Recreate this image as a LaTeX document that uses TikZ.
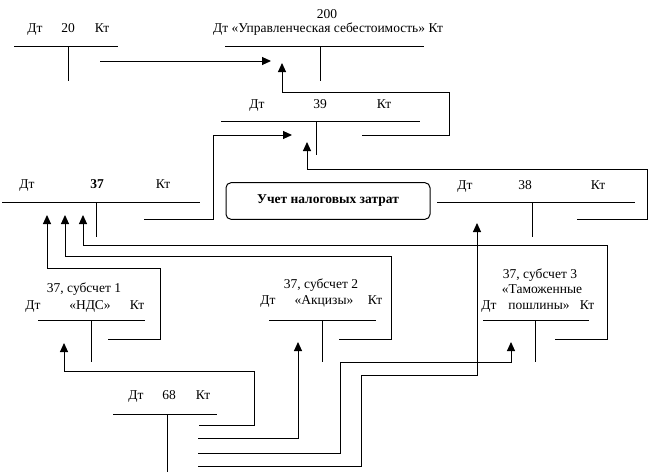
\documentclass[tikz,border=0pt]{standalone}
\usepackage{fontspec}
\setmainfont{Liberation Serif}
\usetikzlibrary{arrows.meta}
\begin{document}
\begin{tikzpicture}[x=1pt,y=-1pt,
    lbl/.style={inner sep=0pt,anchor=base,yshift=-4.6pt,font=\fontsize{13.5}{15}\selectfont},
    tline/.style={draw=black,line width=1pt},
    conn/.style={draw=black,line width=1pt,-{Triangle[length=9pt,width=8pt]}}]
    \useasboundingbox (0,0) rectangle (649,474);

    % T-accounts: left, right, leg x, y, leg length
    \foreach \xa/\xb/\xv/\y/\l in {14/118/68/46.7/34, 225/424/320/46.7/34, 221/420/316/121/34,
        2/200/96.7/202.3/35, 437/635/532/202.3/35, 38/145/91.7/320.3/42,
        269/376/322.3/320.3/42, 483/589/535.7/320.3/42, 113/217/167.3/414.3/58}
        \draw [tline] (\xa,\y) -- (\xb,\y) (\xv,\y) -- (\xv,\y+\l);

    \foreach \x/\y/\t [count=\i] in {35/28/Дт, 68/28/20, 102/28/Кт, 257/104/Дт, 320/104/39, 384/104/Кт,
        27/184/Дт, 163/184/Кт, 465/185/Дт, 525/185/38, 598/185/Кт,
        33/305/Дт, 90/305/«НДС», 137/305/Кт, 268/300/Дт, 324/300/«Акцизы», 375/300/Кт,
        489/305/Дт, 539/305/пошлины», 587/305/Кт, 136/395/Дт, 169/395/68, 203/395/Кт}
        \node [lbl] (t\i) at (\x,\y) {\t};
    \node [lbl] (n200) at (327,13.5) {200};
    \node [lbl] (h200) at (328,28) {Дт «Управленческая себестоимость» Кт};
    \node [lbl,font=\fontsize{13.5}{15}\selectfont\bfseries] (n37) at (97,184) {37};
    \node [lbl] (s1) at (84,288) {37, субсчет 1};
    \node [lbl] (s2) at (321,284) {37, субсчет 2};
    \node [lbl] (s3) at (540,274) {37, субсчет 3};
    \node [lbl] (s3b) at (542,289) {«Таможенные};
    \node [draw=black,line width=1pt,rounded corners=5pt,minimum width=204pt,minimum height=36.6pt,
        font=\fontsize{13.5}{15}\selectfont\bfseries] (tax) at (328,201) {Учет налоговых затрат};

    \coordinate (k20) at (100,61);   \coordinate (d200a) at (271,61);
    \coordinate (k39) at (362,135);  \coordinate (d200b) at (282,63);
    \coordinate (k37) at (144,219);  \coordinate (d39a) at (292,135);
    \coordinate (k38) at (577,219);  \coordinate (d39b) at (307,142);
    \coordinate (k1) at (108,339);   \coordinate (d37a) at (47,215);
    \coordinate (k2) at (339,339);   \coordinate (d37b) at (65,215);
    \coordinate (k3) at (555,339);   \coordinate (d37c) at (83,215);
    \coordinate (k68a) at (199,425); \coordinate (d1) at (64,343);
    \coordinate (k68b) at (198,438); \coordinate (d2) at (298,342);
    \coordinate (k68c) at (198,453); \coordinate (d3) at (511,342);
    \coordinate (k68d) at (198,466); \coordinate (d38) at (477,223);

    \draw [conn] (k20) -- (d200a);
    \draw [conn] (k39) -| (449,92) -| (d200b);
    \draw [conn] (k37) -| (213,135) -- (d39a);
    \draw [conn] (k38) -| (647,169) -| (d39b);
    \draw [conn] (k1) -| (160,268) -| (d37a);
    \draw [conn] (k2) -| (391,256) -| (d37b);
    \draw [conn] (k3) -| (607,245) -| (d37c);
    \draw [conn] (k68a) -| (254,371) -| (d1);
    \draw [conn] (k68b) -| (d2);
    \draw [conn] (k68c) -| (340,362) -| (d3);
    \draw [conn] (k68d) -| (361,375) -| (d38);
\end{tikzpicture}
\end{document}
